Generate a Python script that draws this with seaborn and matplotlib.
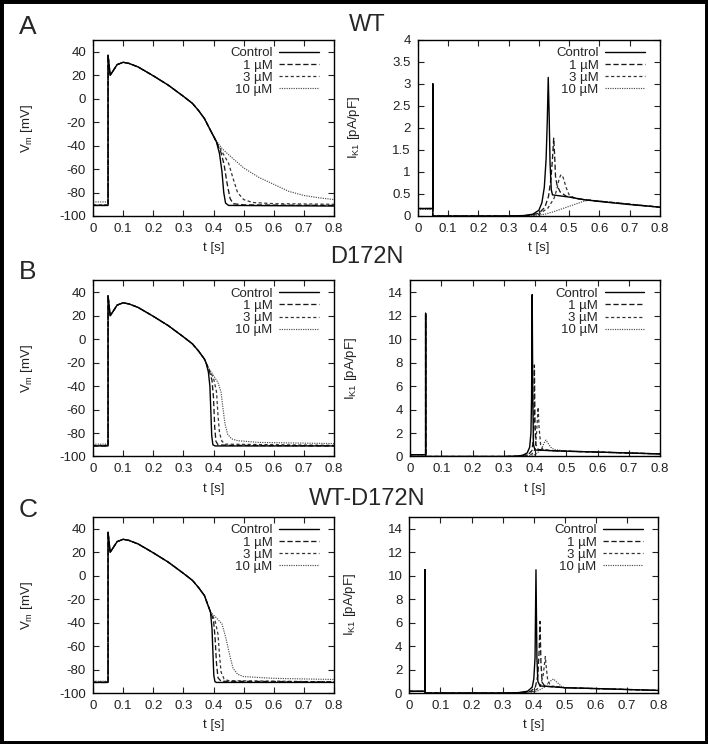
import matplotlib
matplotlib.use("Agg")
import matplotlib.pyplot as plt
import seaborn as sns
from matplotlib.ticker import FormatStrFormatter, MultipleLocator

concs = ["Control", "1 µM", "3 µM", "10 µM"]

# upstroke + plateau, shared by every Vm trace
plateau = [(0.05, 37), (0.057, 20), (0.065, 23), (0.08, 29), (0.1, 31), (0.12, 30),
           (0.15, 27), (0.2, 19.5), (0.25, 11.5), (0.3, 2), (0.33, -4), (0.35, -10), (0.37, -17)]

# resting potentials (mV) per concentration
wt_rest = [-91, -91, -90.5, -88]
d172n_rest = [-91, -91, -90.5, -89.5]
het_rest = [-91, -91, -90.5, -90]

# repolarisation tails, WT
wt_vm_ctrl = [(0.39, -27), (0.41, -37), (0.42, -47), (0.428, -62), (0.434, -80), (0.44, -89), (0.45, -91), (0.8, -91.5)]
wt_vm_1 = [(0.39, -27), (0.41, -37), (0.425, -46), (0.435, -56), (0.445, -72), (0.455, -85), (0.465, -89.5), (0.5, -90.5), (0.8, -91)]
wt_vm_3 = [(0.39, -27), (0.41, -37), (0.43, -46), (0.45, -55), (0.465, -68), (0.48, -80), (0.5, -86), (0.53, -88.5), (0.6, -89.5), (0.8, -90)]
wt_vm_10 = [(0.39, -27), (0.41, -36), (0.43, -43), (0.46, -50), (0.5, -59), (0.55, -67), (0.6, -73), (0.65, -79), (0.7, -82.5), (0.75, -84.5), (0.8, -86)]

# D172N
d172n_vm_ctrl = [(0.375, -20), (0.383, -28), (0.388, -40), (0.391, -60), (0.394, -82), (0.398, -90), (0.405, -91), (0.8, -91)]
d172n_vm_1 = [(0.385, -26), (0.395, -35), (0.4, -50), (0.404, -75), (0.408, -87), (0.415, -90), (0.45, -90.5), (0.8, -91)]
d172n_vm_3 = [(0.385, -26), (0.4, -33), (0.41, -45), (0.415, -65), (0.42, -80), (0.428, -87), (0.44, -89.5), (0.8, -90.5)]
d172n_vm_10 = [(0.385, -25), (0.4, -31), (0.415, -37), (0.425, -45), (0.432, -60), (0.438, -72), (0.447, -81),
               (0.46, -85), (0.48, -86.5), (0.55, -88), (0.8, -89)]

# WT-D172N
het_vm_ctrl = [(0.38, -24), (0.39, -31), (0.395, -45), (0.398, -65), (0.401, -85), (0.405, -90.5), (0.41, -91), (0.8, -91)]
het_vm_1 = [(0.39, -31), (0.4, -38), (0.405, -52), (0.41, -75), (0.415, -87), (0.425, -90), (0.8, -90.5)]
het_vm_3 = [(0.39, -31), (0.405, -38), (0.415, -50), (0.42, -68), (0.425, -82), (0.435, -88), (0.45, -89.5), (0.8, -90.5)]
het_vm_10 = [(0.39, -31), (0.41, -36), (0.428, -41), (0.44, -52), (0.455, -69), (0.465, -79), (0.48, -84),
             (0.5, -86), (0.6, -87.5), (0.8, -88.5)]

# IK1 resting current and stimulus spike height (pA/pF)
wt_ik_rest = [0.17, 0.17, 0.17, 0.15]
d172n_ik_rest = [0.15, 0.15, 0.15, 0.15]
het_ik_rest = [0.15, 0.15, 0.15, 0.15]
wt_spike = 3.0
d172n_spike = 12.2
het_spike = 10.5

wt_ik_ctrl = [(0.35, 0.01), (0.38, 0.04), (0.4, 0.13), (0.41, 0.3), (0.418, 0.65), (0.424, 1.3), (0.428, 2.2),
              (0.431, 3.15), (0.434, 2.3), (0.437, 1.2), (0.441, 0.6), (0.445, 0.48), (0.5, 0.43),
              (0.55, 0.37), (0.6, 0.33), (0.7, 0.26), (0.8, 0.2)]
wt_ik_1 = [(0.36, 0.01), (0.4, 0.06), (0.42, 0.2), (0.432, 0.45), (0.44, 0.85), (0.445, 1.3), (0.449, 1.77),
           (0.452, 1.4), (0.455, 0.9), (0.46, 0.7), (0.47, 0.55), (0.49, 0.45), (0.55, 0.37), (0.8, 0.2)]
wt_ik_3 = [(0.37, 0.01), (0.4, 0.04), (0.43, 0.18), (0.45, 0.4), (0.46, 0.62), (0.467, 0.85), (0.473, 0.94),
           (0.48, 0.88), (0.49, 0.65), (0.5, 0.48), (0.52, 0.4), (0.55, 0.37), (0.8, 0.2)]
wt_ik_10 = [(0.38, 0.01), (0.42, 0.04), (0.45, 0.1), (0.5, 0.22), (0.55, 0.34), (0.57, 0.36), (0.6, 0.34),
            (0.7, 0.27), (0.8, 0.2)]

d172n_ik_ctrl = [(0.34, 0.03), (0.36, 0.1), (0.375, 0.3), (0.383, 0.8), (0.387, 2), (0.389, 5), (0.391, 13.8),
                 (0.393, 5), (0.395, 1), (0.4, 0.55), (0.45, 0.5), (0.5, 0.45), (0.6, 0.38), (0.7, 0.3), (0.8, 0.22)]
d172n_ik_1 = [(0.35, 0.03), (0.38, 0.2), (0.39, 0.5), (0.395, 1.5), (0.397, 4), (0.398, 7.8), (0.4, 3),
              (0.403, 1), (0.41, 0.6), (0.45, 0.5), (0.5, 0.45), (0.8, 0.22)]
d172n_ik_3 = [(0.36, 0.03), (0.39, 0.2), (0.4, 0.6), (0.405, 2), (0.41, 4.2), (0.413, 2.5), (0.418, 1),
              (0.425, 0.6), (0.45, 0.5), (0.8, 0.22)]
d172n_ik_10 = [(0.37, 0.02), (0.4, 0.15), (0.42, 0.6), (0.43, 1.2), (0.435, 1.4), (0.44, 1.2), (0.45, 0.8),
               (0.46, 0.6), (0.5, 0.45), (0.8, 0.22)]

het_ik_ctrl = [(0.35, 0.03), (0.38, 0.15), (0.395, 0.5), (0.4, 1.2), (0.404, 3), (0.407, 10.5), (0.41, 3),
               (0.413, 1), (0.42, 0.6), (0.45, 0.55), (0.5, 0.45), (0.6, 0.38), (0.7, 0.3), (0.8, 0.22)]
het_ik_1 = [(0.36, 0.02), (0.39, 0.15), (0.405, 0.5), (0.413, 1.5), (0.417, 3.5), (0.42, 6.1), (0.423, 2.5),
            (0.427, 0.9), (0.435, 0.6), (0.45, 0.55), (0.5, 0.45), (0.8, 0.22)]
het_ik_3 = [(0.37, 0.02), (0.4, 0.15), (0.42, 0.5), (0.43, 1.5), (0.434, 2.4), (0.437, 3.1), (0.44, 2.2),
            (0.445, 1), (0.455, 0.6), (0.5, 0.45), (0.8, 0.22)]
het_ik_10 = [(0.38, 0.02), (0.41, 0.15), (0.435, 0.5), (0.45, 0.95), (0.463, 1.2), (0.475, 0.9), (0.49, 0.55),
             (0.5, 0.45), (0.8, 0.22)]

colors = {"Control": "#000000", "1 µM": "#1a1a1a", "3 µM": "#333333", "10 µM": "#4d4d4d"}
widths = {"Control": 1.0, "1 µM": 0.95, "3 µM": 0.9, "10 µM": 0.85}
styles = {"Control": "-", "1 µM": (0, (4, 2)), "3 µM": (0, (2.5, 2)), "10 µM": (0, (1, 1))}


def vm_trace(rest, tail):
    pts = [(0.0, rest), (0.05, rest)] + plateau + tail
    return [p[0] for p in pts], [p[1] for p in pts]


def ik_trace(rest, spike, tail):
    pts = [(0.0, rest), (0.05, rest), (0.05, spike), (0.05, 0.0), (0.3, 0.0)] + tail
    return [p[0] for p in pts], [p[1] for p in pts]


def draw_panel(ax, traces, ylim, ystep, ylabel, ylab_x):
    for name in reversed(concs):
        t, v = traces[name]
        sns.lineplot(x=t, y=v, ax=ax, sort=False, estimator=None, color=colors[name],
                     linewidth=widths[name], linestyle=styles[name])
    lines = ax.get_lines()[::-1]
    ax.legend(lines, concs, loc="upper right", bbox_to_anchor=(0.937, 0.96), frameon=False,
              markerfirst=False, fontsize=9.5, handlelength=3.0, handletextpad=0.5,
              labelspacing=0.0, borderpad=0, borderaxespad=0)
    ax.set_xlim(0, 0.8)
    ax.set_ylim(*ylim)
    ax.xaxis.set_major_locator(MultipleLocator(0.1))
    ax.yaxis.set_major_locator(MultipleLocator(ystep))
    ax.xaxis.set_major_formatter(FormatStrFormatter("%g"))
    ax.yaxis.set_major_formatter(FormatStrFormatter("%g"))
    ax.tick_params(direction="in", top=True, right=True, length=4.5, width=0.8,
                   labelsize=9.5, pad=5, colors="#222222")
    for s in ax.spines.values():
        s.set_color("black")
        s.set_linewidth(1.0)
    ax.set_xlabel("t [s]", fontsize=9.5, color="#222222")
    ax.set_ylabel(ylabel, fontsize=9.5, color="#222222")
    ax.xaxis.set_label_coords(0.5, -0.15)
    ax.yaxis.set_label_coords(ylab_x, 0.5)


sns.set_theme(style="ticks")
plt.rcParams["font.family"] = ["Liberation Sans", "DejaVu Sans"]
plt.rcParams["mathtext.default"] = "regular"

fig = plt.figure(figsize=(7.08, 7.44), dpi=100)
W, H = 708.0, 744.0


def add_ax(left, top, width, height):
    return fig.add_axes([left / W, 1 - (top + height) / H, width / W, height / H])


rows = [
    ("A", "WT", wt_rest, [wt_vm_ctrl, wt_vm_1, wt_vm_3, wt_vm_10],
     wt_ik_rest, wt_spike, [wt_ik_ctrl, wt_ik_1, wt_ik_3, wt_ik_10], (0, 4), 0.5, 40),
    ("B", "D172N", d172n_rest, [d172n_vm_ctrl, d172n_vm_1, d172n_vm_3, d172n_vm_10],
     d172n_ik_rest, d172n_spike, [d172n_ik_ctrl, d172n_ik_1, d172n_ik_3, d172n_ik_10], (0, 15), 2, 280.5),
    ("C", "WT-D172N", het_rest, [het_vm_ctrl, het_vm_1, het_vm_3, het_vm_10],
     het_ik_rest, het_spike, [het_ik_ctrl, het_ik_1, het_ik_3, het_ik_10], (0, 15), 2, 517),
]
right_geom = [(417.7, 242.3), (410, 250), (409.3, 249)]
letter_y = [27, 272, 510]
title_y = [25, 257, 499]

for i, (letter, title, rest, vm_tails, ik_rest, spike, ik_tails, ik_ylim, ik_step, top) in enumerate(rows):
    ax_l = add_ax(93, top, 241, 176)
    vm = {c: vm_trace(r, tl) for c, r, tl in zip(concs, rest, vm_tails)}
    draw_panel(ax_l, vm, (-100, 50), 20, "V$_m$ [mV]", -0.24)

    rl, rw = right_geom[i]
    ax_r = add_ax(rl, top, rw, 176)
    ik = {c: ik_trace(r, spike, tl) for c, r, tl in zip(concs, ik_rest, ik_tails)}
    draw_panel(ax_r, ik, ik_ylim, ik_step, "I$_{K1}$ [pA/pF]", -0.23 if i == 0 else -0.205)

    fig.text(28 / W, 1 - letter_y[i] / H, letter, fontsize=19, ha="center", va="center")
    fig.text(367 / W, 1 - title_y[i] / H, title, fontsize=17, ha="center", va="center")

fig.add_artist(plt.Rectangle((0, 0), 1, 1, transform=fig.transFigure, fill=False,
                             edgecolor="black", linewidth=5))

fig.savefig("out.png", dpi=100)
